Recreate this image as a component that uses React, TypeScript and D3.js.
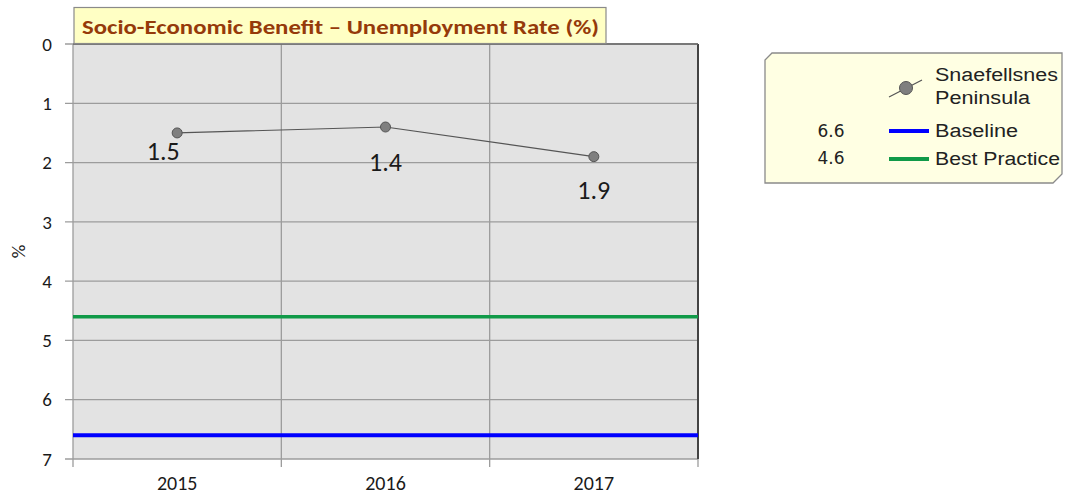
import React from 'react'
import * as d3 from 'd3'

const years = ['2015', '2016', '2017']
const peninsula = [1.5, 1.4, 1.9]
const baseline = 6.6
const bestPractice = 4.6
const yTicks = [0, 1, 2, 3, 4, 5, 6, 7]
const title = 'Socio-Economic Benefit – Unemployment Rate (%)'

const W = 1069
const H = 497
const plot = { left: 73, right: 698, top: 44, bottom: 459 }
// data label placement relative to each point (dx, dy)
const labelOffsets = [
  [-14, 18],
  [0, 35],
  [0, 33],
]

const App = () => {
  const x = d3.scaleBand().domain(years).range([plot.left, plot.right])
  const y = d3.scaleLinear().domain([0, 7]).range([plot.top, plot.bottom])
  const line = d3
    .line<number>()
    .x((d, i) => (x(years[i]) as number) + x.bandwidth() / 2)
    .y((d) => y(d))

  const font = 'Calibri, Carlito, "Open Sans", sans-serif'
  const legFont = '"Liberation Sans", Arial, sans-serif'
  const bounds = [...years.map((c) => x(c) as number), plot.right]

  return (
    <svg width={W} height={H} style={{ position: 'absolute', left: 0, top: 0, background: '#fff' }}>
      {/* plot area */}
      <rect x={plot.left} y={plot.top} width={plot.right - plot.left} height={plot.bottom - plot.top} fill="#e3e3e3" />
      {yTicks.map((t) => (
        <g key={t}>
          <line x1={plot.left - 8} x2={plot.right} y1={y(t)} y2={y(t)} stroke="#9c9c9c" strokeWidth={1.3} />
          <text x={52} y={y(t)} dy="0.35em" textAnchor="end" fontFamily={font} fontSize={19} fill="#1a1a1a">
            {t}
          </text>
        </g>
      ))}
      {bounds.map((b, i) => (
        <line key={i} x1={b} x2={b} y1={plot.top} y2={plot.bottom + 8} stroke="#9c9c9c" strokeWidth={1.3} />
      ))}
      <line x1={plot.right} x2={plot.right} y1={plot.top} y2={plot.bottom} stroke="#444" strokeWidth={2} />
      <line x1={plot.left} x2={plot.right} y1={plot.top} y2={plot.top} stroke="#666" strokeWidth={1.3} />
      {years.map((c) => (
        <text key={c} x={(x(c) as number) + x.bandwidth() / 2} y={483} dy="0.35em" textAnchor="middle" fontFamily={font} fontSize={20} fill="#1a1a1a">
          {c}
        </text>
      ))}
      <text transform={`translate(18,${(plot.top + plot.bottom) / 2}) rotate(-90)`} textAnchor="middle" dy="0.35em" fontFamily={font} fontSize={19} fill="#1a1a1a">
        %
      </text>

      {/* reference lines */}
      <line x1={plot.left} x2={plot.right} y1={y(bestPractice)} y2={y(bestPractice)} stroke="#109a48" strokeWidth={3.5} />
      <line x1={plot.left} x2={plot.right} y1={y(baseline)} y2={y(baseline)} stroke="#0000ff" strokeWidth={4} />

      {/* series */}
      <path d={line(peninsula) ?? ''} fill="none" stroke="#555" strokeWidth={1.2} />
      {peninsula.map((v, i) => {
        const cx = (x(years[i]) as number) + x.bandwidth() / 2
        const [dx, dy] = labelOffsets[i]
        return (
          <g key={i}>
            <circle cx={cx} cy={y(v)} r={5} fill="#7f7f7f" stroke="#555" strokeWidth={1} />
            <text x={cx + dx} y={y(v) + dy} dy="0.35em" textAnchor="middle" fontFamily={font} fontSize={26} fill="#1a1a1a">
              {v.toFixed(1)}
            </text>
          </g>
        )
      })}

      {/* title */}
      <rect x={74} y={7.5} width={532} height={36} fill="#ffffc4" stroke="#8a8a8a" strokeWidth={1.2} />
      <text x={82} y={27} dy="0.35em" fontFamily={font} fontSize={20} fontWeight="bold" fill="#953a0a" textLength={517} lengthAdjust="spacingAndGlyphs">
        {title}
      </text>

      {/* legend */}
      <path d="M772,53 L1062,53 L1062,174 L1053,183 L765,183 L765,60 Z" fill="#ffffe3" stroke="#8a8a8a" strokeWidth={1.3} />
      <line x1={889} x2={922} y1={97} y2={80} stroke="#555" strokeWidth={1.2} />
      <circle cx={906} cy={88} r={6.5} fill="#7f7f7f" stroke="#555" />
      <text x={935} y={75} dy="0.35em" fontFamily={legFont} fontSize={18} fill="#222" textLength={123} lengthAdjust="spacingAndGlyphs">Snaefellsnes</text>
      <text x={935} y={98} dy="0.35em" fontFamily={legFont} fontSize={18} fill="#222" textLength={95} lengthAdjust="spacingAndGlyphs">Peninsula</text>
      <text x={831} y={131} dy="0.35em" textAnchor="middle" fontFamily='"DejaVu Sans", sans-serif' fontSize={17} fill="#222">{baseline.toFixed(1)}</text>
      <line x1={889} x2={929} y1={131} y2={131} stroke="#0000ff" strokeWidth={4} />
      <text x={935} y={131} dy="0.35em" fontFamily={legFont} fontSize={18} fill="#222" textLength={83} lengthAdjust="spacingAndGlyphs">Baseline</text>
      <text x={831} y={158} dy="0.35em" textAnchor="middle" fontFamily='"DejaVu Sans", sans-serif' fontSize={17} fill="#222">{bestPractice.toFixed(1)}</text>
      <line x1={889} x2={929} y1={159} y2={159} stroke="#109a48" strokeWidth={4} />
      <text x={935} y={159} dy="0.35em" fontFamily={legFont} fontSize={18} fill="#222" textLength={125} lengthAdjust="spacingAndGlyphs">Best Practice</text>
    </svg>
  )
}

export default App
